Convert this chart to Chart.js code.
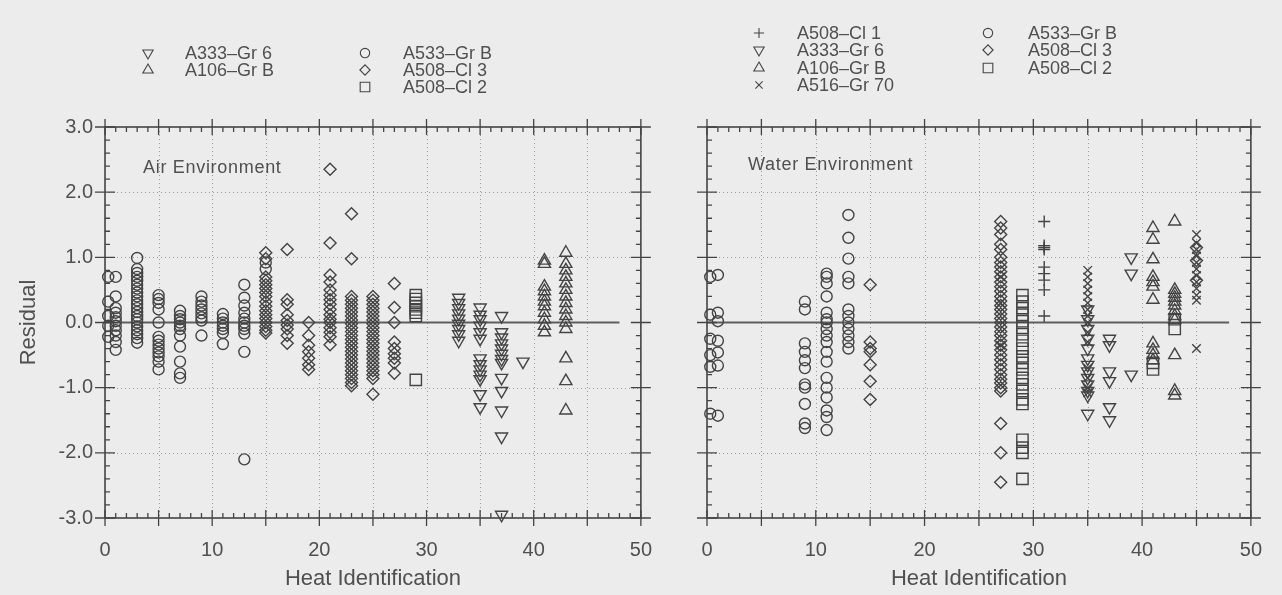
<!DOCTYPE html>
<html>
<head>
<meta charset="utf-8">
<script src="https://cdn.jsdelivr.net/npm/chart.js@4.4.1/dist/chart.umd.min.js"></script>
<style>
  html, body { margin: 0; padding: 0; background: #ececec; }
  #wrap { position: relative; width: 1282px; height: 595px; overflow: hidden;
          font-family: "Liberation Sans", Arial, sans-serif; color: #505050; }
  #airBox { position: absolute; left: 0; top: 0; width: 672px; height: 595px; }
  #waterBox { position: absolute; left: 660px; top: 0; width: 622px; height: 595px; }
  .lgText { position: absolute; font-size: 18px; line-height: 18px; white-space: nowrap; }
  .lgMark { position: absolute; }
  .env { position: absolute; font-size: 18px; line-height: 18px; white-space: nowrap; letter-spacing: 0.7px; }
</style>
</head>
<body>
<div id="wrap">
  <div id="airBox"><canvas id="airChart"></canvas></div>
  <div id="waterBox"><canvas id="waterChart"></canvas></div>
  <div class="env" style="left:143px;top:158px;">Air Environment</div>
  <div class="env" style="left:748px;top:155px;">Water Environment</div>
</div>
<script>
// ---- data: [heat id, [residuals read at that heat]] ----
// Air environment
const airA533GrB = [
  [0.3, [0.70, 0.32, 0.10, -0.05, -0.22]],
  [1, [0.70, 0.40, 0.22, 0.15, 0.08, 0.02, -0.05, -0.12, -0.20, -0.30, -0.42]],
  [3, [0.99, 0.82, 0.76, 0.70, 0.64, 0.58, 0.52, 0.46, 0.40, 0.34, 0.28, 0.22, 0.16, 0.10, 0.05, 0.00, -0.06, -0.12, -0.18, -0.24, -0.31]],
  [5, [0.42, 0.36, 0.30, 0.20, 0.00, -0.22, -0.28, -0.34, -0.40, -0.46, -0.52, -0.60, -0.72]],
  [7, [0.18, 0.10, 0.05, 0.00, -0.05, -0.10, -0.20, -0.37, -0.60, -0.78, -0.85]],
  [9, [0.40, 0.32, 0.26, 0.20, 0.14, 0.08, 0.03, -0.20]],
  [11, [0.13, 0.06, 0.00, -0.05, -0.10, -0.16, -0.33]],
  [13, [0.58, 0.38, 0.26, 0.15, 0.06, 0.00, -0.05, -0.10, -0.17, -0.45, -2.10]],
  [15, [0.92, 0.82]]
];
const airA508Cl3 = [
  [15, [1.07, 0.98, 0.70, 0.64, 0.58, 0.52, 0.46, 0.40, 0.32, 0.25, 0.18, 0.12, 0.06, 0.00, -0.06, -0.12, -0.16]],
  [17, [1.12, 0.35, 0.28, 0.12, 0.03, -0.04, -0.10, -0.20, -0.32]],
  [19, [0.00, -0.20, -0.35, -0.45, -0.55, -0.65, -0.72]],
  [21, [2.35, 1.22, 0.73, 0.62, 0.50, 0.42, 0.35, 0.28, 0.20, 0.12, 0.05, 0.00, -0.08, -0.15, -0.22, -0.34]],
  [23, [1.67, 0.98, 0.40, 0.34, 0.28, 0.22, 0.16, 0.10, 0.04, -0.02, -0.08, -0.14, -0.20, -0.26, -0.32, -0.38, -0.44, -0.50, -0.56, -0.62, -0.68, -0.74, -0.80, -0.86, -0.92, -0.97]],
  [25, [0.40, 0.34, 0.28, 0.22, 0.16, 0.10, 0.04, -0.02, -0.08, -0.14, -0.20, -0.26, -0.32, -0.38, -0.44, -0.50, -0.56, -0.62, -0.68, -0.74, -0.80, -0.86, -1.10]],
  [27, [0.60, 0.23, 0.00, -0.30, -0.40, -0.48, -0.55, -0.62, -0.78]]
];
const airA508Cl2 = [
  [29, [0.42, 0.36, 0.30, 0.25, 0.20, 0.15, 0.10, -0.88]]
];
const airA333Gr6 = [
  [33, [0.38, 0.30, 0.22, 0.14, 0.06, -0.02, -0.10, -0.18, -0.28]],
  [35, [0.23, 0.12, 0.05, -0.05, -0.15, -0.25, -0.55, -0.64, -0.72, -0.80, -0.87, -1.10, -1.30]],
  [37, [0.10, -0.15, -0.23, -0.32, -0.40, -0.48, -0.56, -0.62, -0.85, -1.05, -1.35, -1.75, -2.95]],
  [39, [-0.60]]
];
const airA106GrB = [
  [41, [0.95, 0.90, 0.55, 0.48, 0.40, 0.32, 0.25, 0.15, 0.05, -0.05, -0.15]],
  [43, [1.07, 0.90, 0.80, 0.70, 0.60, 0.50, 0.40, 0.30, 0.20, 0.10, 0.00, -0.10, -0.55, -0.90, -1.35]]
];

// Water environment
const waterA508Cl1 = [
  [31, [1.55, 1.18, 1.15, 1.12, 0.85, 0.75, 0.65, 0.50, 0.10]]
];
const waterA333Gr6 = [
  [35, [0.20, 0.05, -0.10, -0.25, -0.40, -0.55, -0.65, -0.75, -0.85, -0.95, -1.05, -1.12, -1.40]],
  [37, [-0.25, -0.35, -0.75, -0.90, -1.30, -1.50]],
  [39, [1.00, 0.75, -0.80]]
];
const waterA106GrB = [
  [41, [1.45, 1.27, 0.97, 0.70, 0.62, 0.55, 0.35, -0.32, -0.42, -0.50, -0.58]],
  [43, [1.55, 0.50, 0.44, 0.38, 0.32, 0.26, 0.18, 0.10, 0.04, -0.50, -1.05, -1.12]]
];
const waterA516Gr70 = [
  [27, [0.70, 0.30, -0.35]],
  [35, [0.80, 0.70, 0.60, 0.50, 0.40, 0.30, 0.20, 0.10, 0.00, -0.15, -0.30, -0.70, -0.85, -1.00, -1.08]],
  [45, [1.35, 1.22, 1.12, 1.02, 0.92, 0.82, 0.72, 0.62, 0.52, 0.42, 0.34, -0.40]]
];
const waterA533GrB = [
  [0.3, [0.70, 0.12, -0.25, -0.50, -0.68, -1.40]],
  [1, [0.73, 0.15, 0.02, -0.28, -0.46, -0.66, -1.43]],
  [9, [0.32, 0.20, -0.32, -0.45, -0.58, -0.70, -0.95, -1.00, -1.25, -1.55, -1.62]],
  [11, [0.75, 0.70, 0.60, 0.40, 0.15, 0.05, 0.00, -0.10, -0.20, -0.30, -0.45, -0.60, -0.85, -1.00, -1.15, -1.35, -1.45, -1.65]],
  [13, [1.65, 1.30, 0.98, 0.70, 0.60, 0.20, 0.10, 0.00, -0.10, -0.20, -0.30, -0.40]]
];
const waterA508Cl3 = [
  [15, [0.58, -0.30, -0.40, -0.45, -0.65, -0.90, -1.18]],
  [27, [1.55, 1.45, 1.35, 1.20, 1.12, 1.00, 0.92, 0.85, 0.78, 0.70, 0.62, 0.55, 0.48, 0.40, 0.33, 0.26, 0.20, 0.13, 0.06, 0.00, -0.07, -0.14, -0.20, -0.28, -0.35, -0.42, -0.50, -0.57, -0.65, -0.72, -0.80, -0.87, -0.93, -1.00, -1.05, -1.55, -2.00, -2.45]],
  [45, [1.15, 0.95, 0.65]]
];
const waterA508Cl2 = [
  [29, [0.42, 0.32, 0.22, 0.12, 0.02, -0.08, -0.18, -0.28, -0.40, -0.52, -0.62, -0.72, -0.85, -0.95, -1.05, -1.18, -1.25, -1.80, -1.92, -2.00, -2.40]],
  [41, [-0.62, -0.72]],
  [43, [0.05, -0.10]]
];

const xTickValues = [0, 10, 20, 30, 40, 50];
const yTickValues = [-3, -2, -1, 0, 1, 2, 3];

// ---- styles ----
const inkColor = '#444444';
const textColor = '#505050';
const fontFamily = '"Liberation Sans", Arial, sans-serif';
const zeroLineEnd = 48;

const markStyles = {
  'A533–Gr B': { pointStyle: 'circle', radius: 5.5, rotation: 0 },
  'A508–Cl 3': { pointStyle: 'rectRot', radius: 6, rotation: 0 },
  'A508–Cl 2': { pointStyle: 'rect', radius: 8, rotation: 0 },
  'A333–Gr 6': { pointStyle: 'triangle', radius: 7, rotation: 180 },
  'A106–Gr B': { pointStyle: 'triangle', radius: 7, rotation: 0 },
  'A508–Cl 1': { pointStyle: 'cross', radius: 6, rotation: 0 },
  'A516–Gr 70': { pointStyle: 'crossRot', radius: 6, rotation: 0 }
};

function toPoints(cols) {
  return cols.flatMap(([heat, vals]) => vals.map(v => ({ x: heat, y: v })));
}

function makeDataset(name, cols) {
  const st = markStyles[name];
  return {
    label: name,
    data: toPoints(cols),
    pointStyle: st.pointStyle,
    pointRadius: st.radius,
    pointRotation: st.rotation,
    pointBorderColor: inkColor,
    pointBackgroundColor: 'rgba(0,0,0,0)',
    pointBorderWidth: 1.4,
    showLine: false,
    clip: false
  };
}

const airSets = [
  makeDataset('A333–Gr 6', airA333Gr6),
  makeDataset('A106–Gr B', airA106GrB),
  makeDataset('A533–Gr B', airA533GrB),
  makeDataset('A508–Cl 3', airA508Cl3),
  makeDataset('A508–Cl 2', airA508Cl2)
];
const waterSets = [
  makeDataset('A508–Cl 1', waterA508Cl1),
  makeDataset('A333–Gr 6', waterA333Gr6),
  makeDataset('A106–Gr B', waterA106GrB),
  makeDataset('A516–Gr 70', waterA516Gr70),
  makeDataset('A533–Gr B', waterA533GrB),
  makeDataset('A508–Cl 3', waterA508Cl3),
  makeDataset('A508–Cl 2', waterA508Cl2)
];

// grid, frame, ticks and the zero reference line
const framePlugin = {
  id: 'frame',
  beforeDatasetsDraw(chart) {
    const ctx = chart.ctx, a = chart.chartArea;
    const xs = chart.scales.x, ys = chart.scales.y;
    ctx.save();
    ctx.strokeStyle = '#9a9a9a';
    ctx.lineWidth = 1;
    ctx.setLineDash([1, 3]);
    ctx.beginPath();
    for (let v = 5; v < 50; v += 5) {
      const px = Math.round(xs.getPixelForValue(v)) + 0.5;
      ctx.moveTo(px, a.top); ctx.lineTo(px, a.bottom);
    }
    for (let v = -2; v <= 2; v++) {
      if (v === 0) continue;
      const py = Math.round(ys.getPixelForValue(v)) + 0.5;
      ctx.moveTo(a.left, py); ctx.lineTo(a.right, py);
    }
    ctx.stroke();
    ctx.setLineDash([]);

    const y0 = ys.getPixelForValue(0);
    ctx.strokeStyle = '#5e5e5e';
    ctx.lineWidth = 2;
    ctx.beginPath();
    ctx.moveTo(xs.getPixelForValue(0), y0);
    ctx.lineTo(xs.getPixelForValue(zeroLineEnd), y0);
    ctx.stroke();

    ctx.strokeStyle = inkColor;
    ctx.lineWidth = 1.6;
    ctx.strokeRect(a.left, a.top, a.right - a.left, a.bottom - a.top);

    ctx.lineWidth = 1.3;
    ctx.beginPath();
    for (let v = 0; v <= 50; v++) {
      const px = xs.getPixelForValue(v);
      if (v % 5 === 0) {
        ctx.moveTo(px, a.bottom + 8); ctx.lineTo(px, a.bottom - 8);
        ctx.moveTo(px, a.top - 8); ctx.lineTo(px, a.top + 8);
      } else {
        ctx.moveTo(px, a.bottom); ctx.lineTo(px, a.bottom - 5);
        ctx.moveTo(px, a.top); ctx.lineTo(px, a.top + 5);
      }
    }
    for (let i = -15; i <= 15; i++) {
      const py = ys.getPixelForValue(i / 5);
      if (i % 5 === 0) {
        ctx.moveTo(a.left - 10, py); ctx.lineTo(a.left + 10, py);
        ctx.moveTo(a.right - 10, py); ctx.lineTo(a.right + 10, py);
      } else {
        ctx.moveTo(a.left, py); ctx.lineTo(a.left + 5, py);
        ctx.moveTo(a.right, py); ctx.lineTo(a.right - 5, py);
      }
    }
    ctx.stroke();
    ctx.restore();
  }
};

function makeChart(canvasId, datasets, showY, yWidth, padRight) {
  return new Chart(document.getElementById(canvasId), {
    type: 'scatter',
    data: { datasets: datasets },
    plugins: [framePlugin],
    options: {
      responsive: true,
      maintainAspectRatio: false,
      animation: false,
      events: [],
      layout: { padding: { top: 127, right: padRight, bottom: 0, left: 0 } },
      plugins: { legend: { display: false }, tooltip: { enabled: false } },
      scales: {
        x: {
          type: 'linear', min: 0, max: 50,
          grid: { display: false, drawTicks: false },
          border: { display: false },
          afterBuildTicks: s => { s.ticks = xTickValues.map(v => ({ value: v })); },
          afterFit: s => { s.height = 77; },
          ticks: { color: textColor, font: { family: fontFamily, size: 20 }, padding: 20, maxRotation: 0, autoSkip: false },
          title: { display: true, text: 'Heat Identification', color: textColor,
                   font: { family: fontFamily, size: 22 }, padding: { top: 0, bottom: 3 } }
        },
        y: {
          type: 'linear', min: -3, max: 3,
          grid: { display: false, drawTicks: false },
          border: { display: false },
          afterBuildTicks: s => { s.ticks = yTickValues.map(v => ({ value: v })); },
          afterFit: s => { s.width = yWidth; },
          ticks: { display: showY, color: textColor, font: { family: fontFamily, size: 20 }, padding: 12,
                   callback: v => v.toFixed(1) },
          title: { display: showY, text: 'Residual', color: textColor,
                   font: { family: fontFamily, size: 22 }, padding: { top: 16, bottom: 0 } }
        }
      }
    }
  });
}

makeChart('airChart', airSets, true, 105, 21);
makeChart('waterChart', waterSets, false, 47, 28);

// ---- legends (html text, markers drawn with Chart.js point helper) ----
const airLegendCols = [
  { markX: 148, textX: 185, names: ['A333–Gr 6', 'A106–Gr B'] },
  { markX: 365, textX: 403, names: ['A533–Gr B', 'A508–Cl 3', 'A508–Cl 2'] }
];
const waterLegendCols = [
  { markX: 759, textX: 797, names: ['A508–Cl 1', 'A333–Gr 6', 'A106–Gr B', 'A516–Gr 70'] },
  { markX: 988, textX: 1028, names: ['A533–Gr B', 'A508–Cl 3', 'A508–Cl 2'] }
];

function buildLegend(cols, firstY, step) {
  const wrap = document.getElementById('wrap');
  cols.forEach(col => {
    col.names.forEach((name, i) => {
      const cy = firstY + i * step;
      const c = document.createElement('canvas');
      c.width = 20; c.height = 20;
      c.className = 'lgMark';
      c.style.left = (col.markX - 10) + 'px';
      c.style.top = (cy - 10) + 'px';
      wrap.appendChild(c);
      const ctx = c.getContext('2d');
      const st = markStyles[name];
      ctx.strokeStyle = inkColor;
      ctx.fillStyle = 'rgba(0,0,0,0)';
      ctx.lineWidth = 1.1;
      Chart.helpers.drawPoint(ctx, { pointStyle: st.pointStyle, radius: st.radius * 0.85,
                                     rotation: st.rotation, borderWidth: 1.1 }, 10, 10);
      const t = document.createElement('div');
      t.className = 'lgText';
      t.textContent = name;
      t.style.left = col.textX + 'px';
      t.style.top = (cy - 9) + 'px';
      wrap.appendChild(t);
    });
  });
}
buildLegend(airLegendCols, 53, 17);
buildLegend(waterLegendCols, 33, 17.3);
</script>
</body>
</html>
